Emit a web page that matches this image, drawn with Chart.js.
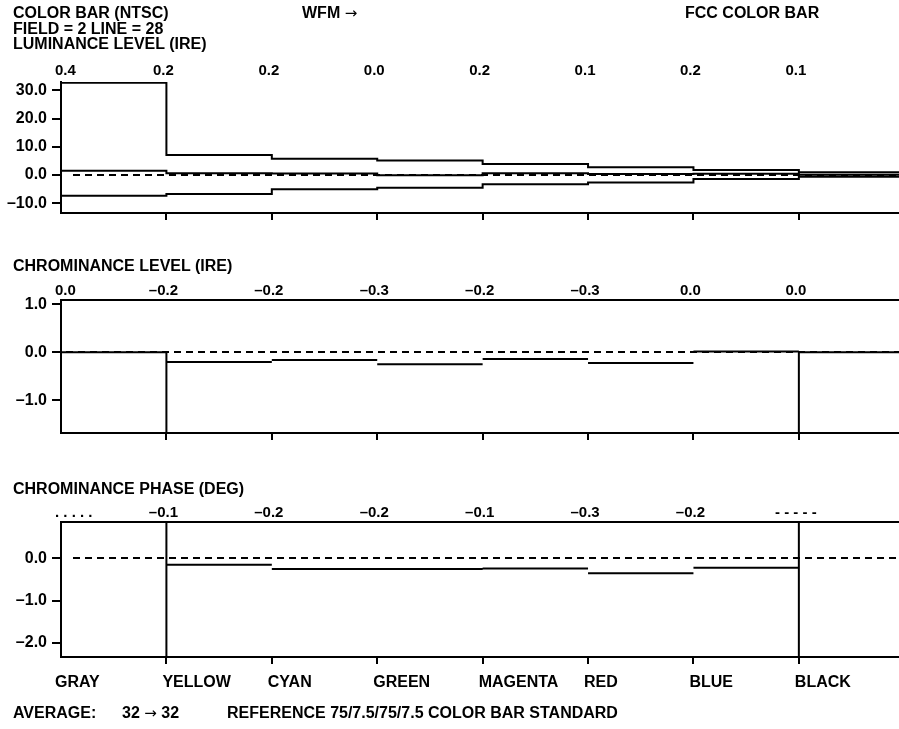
<!DOCTYPE html>
<html>
<head>
<meta charset="utf-8">
<script src="https://cdn.jsdelivr.net/npm/chart.js@4/dist/chart.umd.min.js"></script>
<style>
html,body{margin:0;padding:0;background:#fff;}
#wrap{position:relative;width:899px;height:729px;overflow:hidden;font-family:"Liberation Sans",Arial,Helvetica,sans-serif;font-weight:bold;color:#000;}
canvas{position:absolute;left:0;top:0;}
.t{position:absolute;font-size:16px;line-height:16px;white-space:nowrap;}
.arr{font-size:15px;font-weight:normal;font-family:"DejaVu Sans",sans-serif;}
</style>
</head>
<body>
<div id="wrap">
<canvas id="c1" width="899" height="729"></canvas>
<canvas id="c2" width="899" height="729"></canvas>
<canvas id="c3" width="899" height="729"></canvas>
<div class="t" style="left:13px;top:5px">COLOR BAR (NTSC)</div>
<div class="t" style="left:13px;top:21px">FIELD = 2 LINE = 28</div>
<div class="t" style="left:13px;top:36px">LUMINANCE LEVEL (IRE)</div>
<div class="t" style="left:302px;top:5px">WFM <span class="arr">&rarr;</span></div>
<div class="t" style="left:685px;top:5px">FCC COLOR BAR</div>
<div class="t" style="left:13px;top:258px">CHROMINANCE LEVEL (IRE)</div>
<div class="t" style="left:13px;top:481px">CHROMINANCE PHASE (DEG)</div>
<div class="t" style="left:13px;top:705px">AVERAGE:</div>
<div class="t" style="left:122px;top:705px">32 <span class="arr">&rarr;</span> 32</div>
<div class="t" style="left:227px;top:705px">REFERENCE 75/7.5/75/7.5 COLOR BAR STANDARD</div>
</div>
<script>
// ---- data ----
const categories = ['GRAY','YELLOW','CYAN','GREEN','MAGENTA','RED','BLUE','BLACK'];

const lumUpper = [32.7, 7.1, 5.8, 5.1, 3.9, 2.7, 1.8, 1.0];
const lumMid   = [1.5, 0.6, 0.5, -0.1, 0.6, 0.3, 0.4, 0.1];
const lumLower = [-7.4, -6.8, -5.1, -4.5, -3.3, -2.7, -1.4, -0.6];
const lumLabels = ['0.4','0.2','0.2','0.0','0.2','0.1','0.2','0.1'];
const lumTicks = [30, 20, 10, 0, -10];

const chromaLevel = [0.0, -0.2, -0.16, -0.25, -0.14, -0.22, 0.02, 0.0];
const levelLabels = ['0.0','\u20130.2','\u20130.2','\u20130.3','\u20130.2','\u20130.3','0.0','0.0'];
const levelTicks = [1, 0, -1];

const chromaPhase = [null, -0.15, -0.25, -0.25, -0.24, -0.35, -0.22, null];
const phaseLabels = ['. . . . .','\u20130.1','\u20130.2','\u20130.2','\u20130.1','\u20130.3','\u20130.2','- - - - -'];
const phaseTicks = [0, -1, -2];

// ---- axis ranges ----
const X_MAX = 7.95;
const LUM_MIN = -13.5, LUM_MAX = 33;
const LVL_MIN = -1.68, LVL_MAX = 1.09;
const PH_MIN = -2.33, PH_MAX = 0.86;

const FONT = '"Liberation Sans", Arial, Helvetica, sans-serif';
const BLACK = '#000';
const boundaries = categories.map((c, i) => i).filter(i => i > 0);
const iYellow = categories.indexOf('YELLOW');
const iBlack = categories.indexOf('BLACK');

function fmt(v) { return Number(v).toFixed(1).replace('-', '\u2013'); }
function stepPoints(vals) {
  const pts = vals.map((v, i) => ({x: i, y: v}));
  pts.push({x: vals.length, y: vals[vals.length - 1]});
  return pts;
}
function segPoints(vals) {
  const pts = [];
  vals.forEach((v, i) => {
    if (v === null) return;
    pts.push({x: i, y: v}, {x: i + 1, y: v}, {x: i + 1, y: null});
  });
  return pts;
}
function lineDs(data, extra) {
  return Object.assign({data, borderColor: BLACK, borderWidth: 2, pointRadius: 0, fill: false,
    tension: 0, spanGaps: false, xAxisID: 'x', yAxisID: 'y', borderCapStyle: 'butt'}, extra || {});
}

const panelPlugin = {
  id: 'panelText',
  afterDatasetsDraw(chart, args, opts) {
    const {ctx, chartArea} = chart;
    const xs = chart.scales.x, ys = chart.scales.y;
    ctx.save();
    ctx.setLineDash([7, 5]);
    ctx.lineWidth = 2;
    ctx.strokeStyle = BLACK;
    const y0 = Math.round(ys.getPixelForValue(0));
    ctx.beginPath();
    ctx.moveTo(chartArea.left + opts.zeroStart, y0);
    ctx.lineTo(chartArea.right, y0);
    ctx.stroke();
    ctx.setLineDash([]);
    ctx.fillStyle = BLACK;
    ctx.textBaseline = 'alphabetic';
    ctx.font = 'bold 15px ' + FONT;
    opts.labels.forEach((t, i) => {
      const px = xs.getPixelForValue(i);
      if (i === 0) { ctx.textAlign = 'left'; ctx.fillText(t, px - 6, opts.labelY); }
      else { ctx.textAlign = 'center'; ctx.fillText(t, px - 3, opts.labelY); }
    });
    if (opts.categories) {
      ctx.font = 'bold 16px ' + FONT;
      ctx.textAlign = 'left';
      opts.categories.forEach((t, i) => {
        const px = xs.getPixelForValue(i);
        ctx.fillText(t, i === 0 ? px - 6 : px - 4, opts.catY);
      });
    }
    ctx.restore();
  }
};

function makeChart(id, cfg) {
  const scales = {
    x: {
      type: 'linear', position: 'bottom', min: 0, max: X_MAX,
      afterFit: s => { s.height = 729 - cfg.bottom; },
      afterBuildTicks: s => { s.ticks = boundaries.map(v => ({value: v})); },
      ticks: {display: false},
      grid: {display: true, drawOnChartArea: false, drawTicks: true, tickLength: 7, tickWidth: 2, lineWidth: 2, color: BLACK},
      border: {display: true, width: 2, color: BLACK}
    },
    y: {
      type: 'linear', position: 'left', min: cfg.min, max: cfg.max,
      afterFit: s => { s.width = 61; },
      afterBuildTicks: s => { s.ticks = cfg.ticks.map(v => ({value: v})); },
      ticks: {callback: v => fmt(v), color: BLACK, padding: 5, font: {family: FONT, size: 16, weight: 'bold'}},
      grid: {display: true, drawOnChartArea: false, drawTicks: true, tickLength: 9, tickWidth: 2, lineWidth: 2, color: BLACK},
      border: {display: true, width: 2, color: BLACK}
    }
  };
  if (cfg.topBorder) {
    scales.x2 = {
      type: 'linear', position: 'top', min: 0, max: X_MAX, display: true,
      afterFit: s => { s.height = 0; },
      ticks: {display: false},
      grid: {display: false, drawTicks: false},
      border: {display: true, width: 2, color: BLACK}
    };
  }
  return new Chart(document.getElementById(id), {
    type: 'line',
    data: {datasets: cfg.datasets},
    options: {
      responsive: false, animation: false, events: [],
      layout: {padding: {top: cfg.top, left: 0, right: 0, bottom: 0}},
      plugins: {legend: {display: false}, tooltip: {enabled: false}, title: {display: false},
        panelText: {labels: cfg.labels, labelY: cfg.labelY, zeroStart: cfg.zeroStart, categories: cfg.categories, catY: cfg.catY}},
      scales
    },
    plugins: [panelPlugin]
  });
}

// Panel 1: luminance level
makeChart('c1', {
  top: 82, bottom: 213, min: LUM_MIN, max: LUM_MAX, ticks: lumTicks, topBorder: false,
  labels: lumLabels, labelY: 74.5, zeroStart: 12,
  datasets: [
    lineDs(stepPoints(lumUpper), {stepped: 'before'}),
    lineDs(stepPoints(lumMid), {stepped: 'before'}),
    lineDs(stepPoints(lumLower), {stepped: 'before'})
  ]
});

// Panel 2: chrominance level
makeChart('c2', {
  top: 300, bottom: 433, min: LVL_MIN, max: LVL_MAX, ticks: levelTicks, topBorder: true,
  labels: levelLabels, labelY: 294.5, zeroStart: 5,
  datasets: [
    lineDs(segPoints(chromaLevel)),
    lineDs([
      {x: iYellow, y: chromaLevel[0]}, {x: iYellow, y: LVL_MIN}, {x: iYellow, y: null},
      {x: iBlack, y: chromaLevel[iBlack]}, {x: iBlack, y: LVL_MIN}
    ])
  ]
});

// Panel 3: chrominance phase
makeChart('c3', {
  top: 522, bottom: 657, min: PH_MIN, max: PH_MAX, ticks: phaseTicks, topBorder: true,
  labels: phaseLabels, labelY: 516.5, zeroStart: 12,
  categories: categories, catY: 687,
  datasets: [
    lineDs(segPoints(chromaPhase)),
    lineDs([
      {x: iYellow, y: PH_MAX}, {x: iYellow, y: PH_MIN}, {x: iYellow, y: null},
      {x: iBlack, y: PH_MAX}, {x: iBlack, y: PH_MIN}
    ])
  ]
});
</script>
</body>
</html>
